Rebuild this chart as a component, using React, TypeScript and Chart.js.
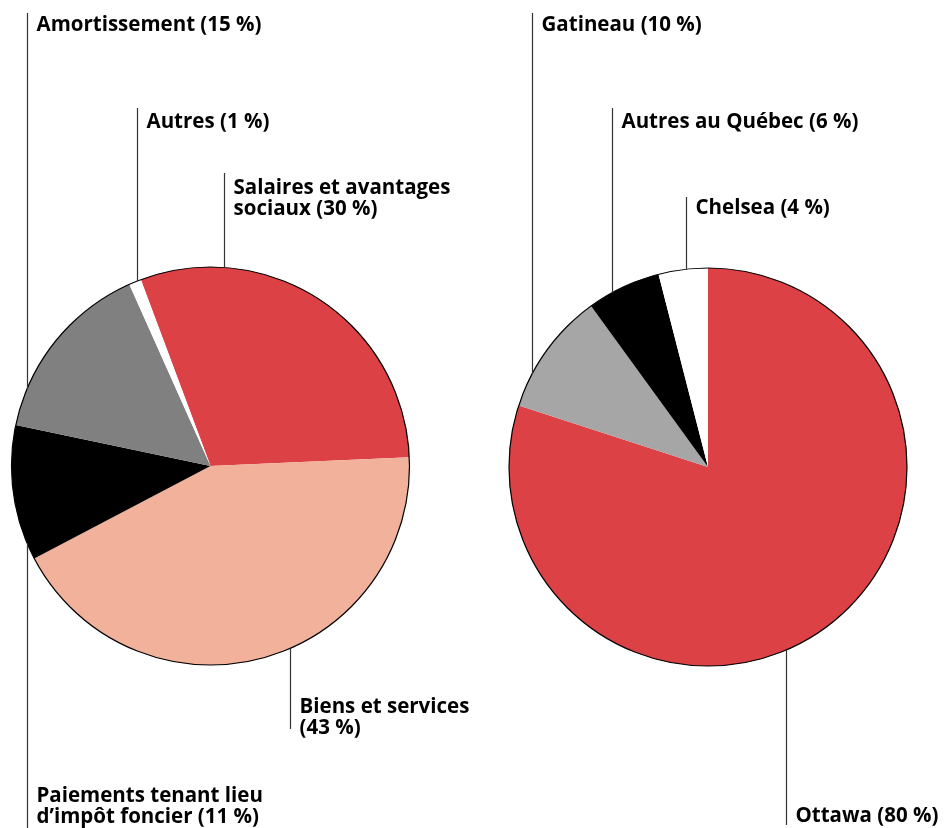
import React, { useEffect, useRef } from "react";
import { Chart, registerables } from "chart.js";

Chart.register(...registerables);

const W = 945;
const H = 828;
const FONT = 'bold 20.5px "Open Sans", "Noto Sans", sans-serif';
const LINE_HEIGHT = 21;

// Répartition des dépenses
const expenseCategories = [
  "Salaires et avantages sociaux",
  "Biens et services",
  "Paiements tenant lieu d’impôt foncier",
  "Amortissement",
  "Autres",
];
const expenseShares = [30, 43, 11, 15, 1];
const expenseColors = ["#dc4146", "#f1b19a", "#000000", "#808080", "#ffffff"];

// Répartition par lieu
const regionCategories = ["Ottawa", "Gatineau", "Autres au Québec", "Chelsea"];
const regionShares = [80, 10, 6, 4];
const regionColors = ["#dc4146", "#a6a6a6", "#000000", "#ffffff"];

// Callout placement: vertical leader at lineX, running from the pie edge to lineEnd.
type Callout = { lineX: number; lineEnd: number; baseline: number; wrap: number; below: boolean };

const expenseCallouts: Callout[] = [
  { lineX: 224, lineEnd: 173, baseline: 194, wrap: 230, below: false },
  { lineX: 290, lineEnd: 729, baseline: 713, wrap: 190, below: true },
  { lineX: 27, lineEnd: 828, baseline: 802, wrap: 235, below: true },
  { lineX: 27, lineEnd: 13, baseline: 31, wrap: 500, below: false },
  { lineX: 137, lineEnd: 108, baseline: 128, wrap: 500, below: false },
];

const regionCallouts: Callout[] = [
  { lineX: 786, lineEnd: 825, baseline: 822, wrap: 500, below: true },
  { lineX: 532, lineEnd: 13, baseline: 31, wrap: 500, below: false },
  { lineX: 612, lineEnd: 108, baseline: 128, wrap: 500, below: false },
  { lineX: 686, lineEnd: 197, baseline: 214, wrap: 500, below: false },
];

function wrapText(ctx: CanvasRenderingContext2D, text: string, maxWidth: number): string[] {
  const words = text.split(" ");
  const lines: string[] = [];
  let current = "";
  for (const w of words) {
    const trial = current ? current + " " + w : w;
    if (current && ctx.measureText(trial).width > maxWidth) {
      lines.push(current);
      current = w;
    } else {
      current = trial;
    }
  }
  if (current) lines.push(current);
  return lines;
}

function calloutPlugin(categories: string[], shares: number[], callouts: Callout[]) {
  return {
    id: "callouts",
    afterDatasetsDraw(chart: any) {
      const ctx: CanvasRenderingContext2D = chart.ctx;
      const meta = chart.getDatasetMeta(0);
      const arc = meta.data[0];
      const { x, y, outerRadius } = arc.getProps(["x", "y", "outerRadius"], true);

      ctx.save();
      // outline of the pie
      ctx.beginPath();
      ctx.arc(x, y, outerRadius, 0, Math.PI * 2);
      ctx.lineWidth = 1.2;
      ctx.strokeStyle = "#000";
      ctx.stroke();

      ctx.font = FONT;
      ctx.fillStyle = "#000";
      ctx.textBaseline = "alphabetic";
      ctx.textAlign = "left";

      callouts.forEach((c, i) => {
        const dx = c.lineX - x;
        const h = Math.sqrt(Math.max(outerRadius * outerRadius - dx * dx, 0));
        const edgeY = c.below ? y + h : y - h;
        ctx.beginPath();
        ctx.moveTo(c.lineX + 0.5, edgeY);
        ctx.lineTo(c.lineX + 0.5, c.lineEnd);
        ctx.lineWidth = 1.2;
        ctx.strokeStyle = "#333";
        ctx.stroke();

        const label = `${categories[i]} (${shares[i]}\u00a0%)`;
        const lines = wrapText(ctx, label, c.wrap);
        lines.forEach((ln, k) => {
          ctx.fillText(ln, c.lineX + 9.5, c.baseline + k * LINE_HEIGHT);
        });
      });
      ctx.restore();
    },
  };
}

function PieCanvas(props: {
  categories: string[];
  shares: number[];
  colors: string[];
  callouts: Callout[];
  rotation: number;
  padding: { left: number; right: number; top: number; bottom: number };
}) {
  const ref = useRef<HTMLCanvasElement | null>(null);

  useEffect(() => {
    let chart: Chart | null = null;
    let cancelled = false;
    const build = () => {
      if (cancelled || !ref.current) return;
      chart = new Chart(ref.current, {
        type: "pie",
        data: {
          labels: props.categories,
          datasets: [
            {
              data: props.shares,
              backgroundColor: props.colors,
              borderWidth: 0,
              hoverBorderWidth: 0,
              hoverOffset: 0,
            },
          ],
        },
        options: {
          responsive: false,
          animation: false,
          events: [],
          rotation: props.rotation,
          layout: { padding: props.padding },
          plugins: {
            legend: { display: false },
            tooltip: { enabled: false },
          },
        } as any,
        plugins: [calloutPlugin(props.categories, props.shares, props.callouts)],
      });
    };
    const fonts = (document as any).fonts;
    if (fonts && fonts.load) {
      fonts.load(FONT).then(build, build);
    } else {
      build();
    }
    return () => {
      cancelled = true;
      if (chart) chart.destroy();
    };
  }, []);

  return (
    <canvas
      ref={ref}
      width={W}
      height={H}
      style={{ position: "absolute", left: 0, top: 0, width: W, height: H }}
    />
  );
}

export default function App() {
  return (
    <div
      style={{
        position: "absolute",
        left: 0,
        top: 0,
        width: W,
        height: H,
        background: "#fff",
        overflow: "hidden",
      }}
    >
      <PieCanvas
        categories={expenseCategories}
        shares={expenseShares}
        colors={expenseColors}
        callouts={expenseCallouts}
        rotation={-20.5}
        padding={{ left: 11, right: W - 410, top: 267, bottom: H - 665 }}
      />
      <PieCanvas
        categories={regionCategories}
        shares={regionShares}
        colors={regionColors}
        callouts={regionCallouts}
        rotation={0}
        padding={{ left: 509, right: W - 907, top: 268, bottom: H - 666 }}
      />
    </div>
  );
}
